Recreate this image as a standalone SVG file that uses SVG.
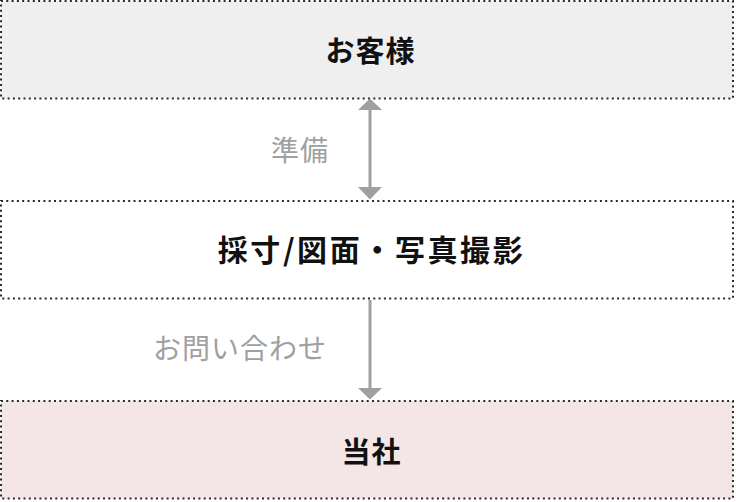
<svg xmlns="http://www.w3.org/2000/svg" width="736" height="502" viewBox="0 0 736 502">
<style>
.box{stroke:#2a2a2a;stroke-width:2;stroke-dasharray:2 3.3}
.title{font-family:"Noto Sans CJK JP","Noto Sans",sans-serif;font-weight:bold;fill:#111;text-anchor:middle}
.lbl{font-family:"Noto Sans CJK JP","Noto Sans",sans-serif;font-size:28px;letter-spacing:1px;fill:#a0a0a0;text-anchor:end}
.ln{stroke:#a0a0a0;stroke-width:3;fill:none}
.hd{fill:#a0a0a0}
</style>
<rect width="736" height="502" fill="#fff"/>
<g id="customer">
<rect class="box" x="1" y="1" width="732" height="97.5" fill="#efefef"/>
<text class="title" x="370.5" y="62" font-size="29" letter-spacing="1">お客様</text>
</g>
<g id="survey">
<rect class="box" x="1" y="201" width="732" height="97.5" fill="#fff"/>
<text class="title" x="371.5" y="261" font-size="30" letter-spacing="2.6">採寸/図面・写真撮影</text>
</g>
<g id="company">
<rect class="box" x="1" y="401" width="732" height="97.5" fill="#f4e6e6"/>
<text class="title" x="371.5" y="463" font-size="29" letter-spacing="1">当社</text>
</g>
<g id="connectors">
<line class="ln" x1="370" y1="108" x2="370" y2="190"/>
<polygon class="hd" points="370,98.5 382,110 358,110"/>
<polygon class="hd" points="370,199.5 382,187 358,187"/>
<text class="lbl" x="329" y="161">準備</text>
<line class="ln" x1="370" y1="300" x2="370" y2="390"/>
<polygon class="hd" points="370,399.5 382,388 358,388"/>
<text class="lbl" x="327" y="359">お問い合わせ</text>
</g>
</svg>
